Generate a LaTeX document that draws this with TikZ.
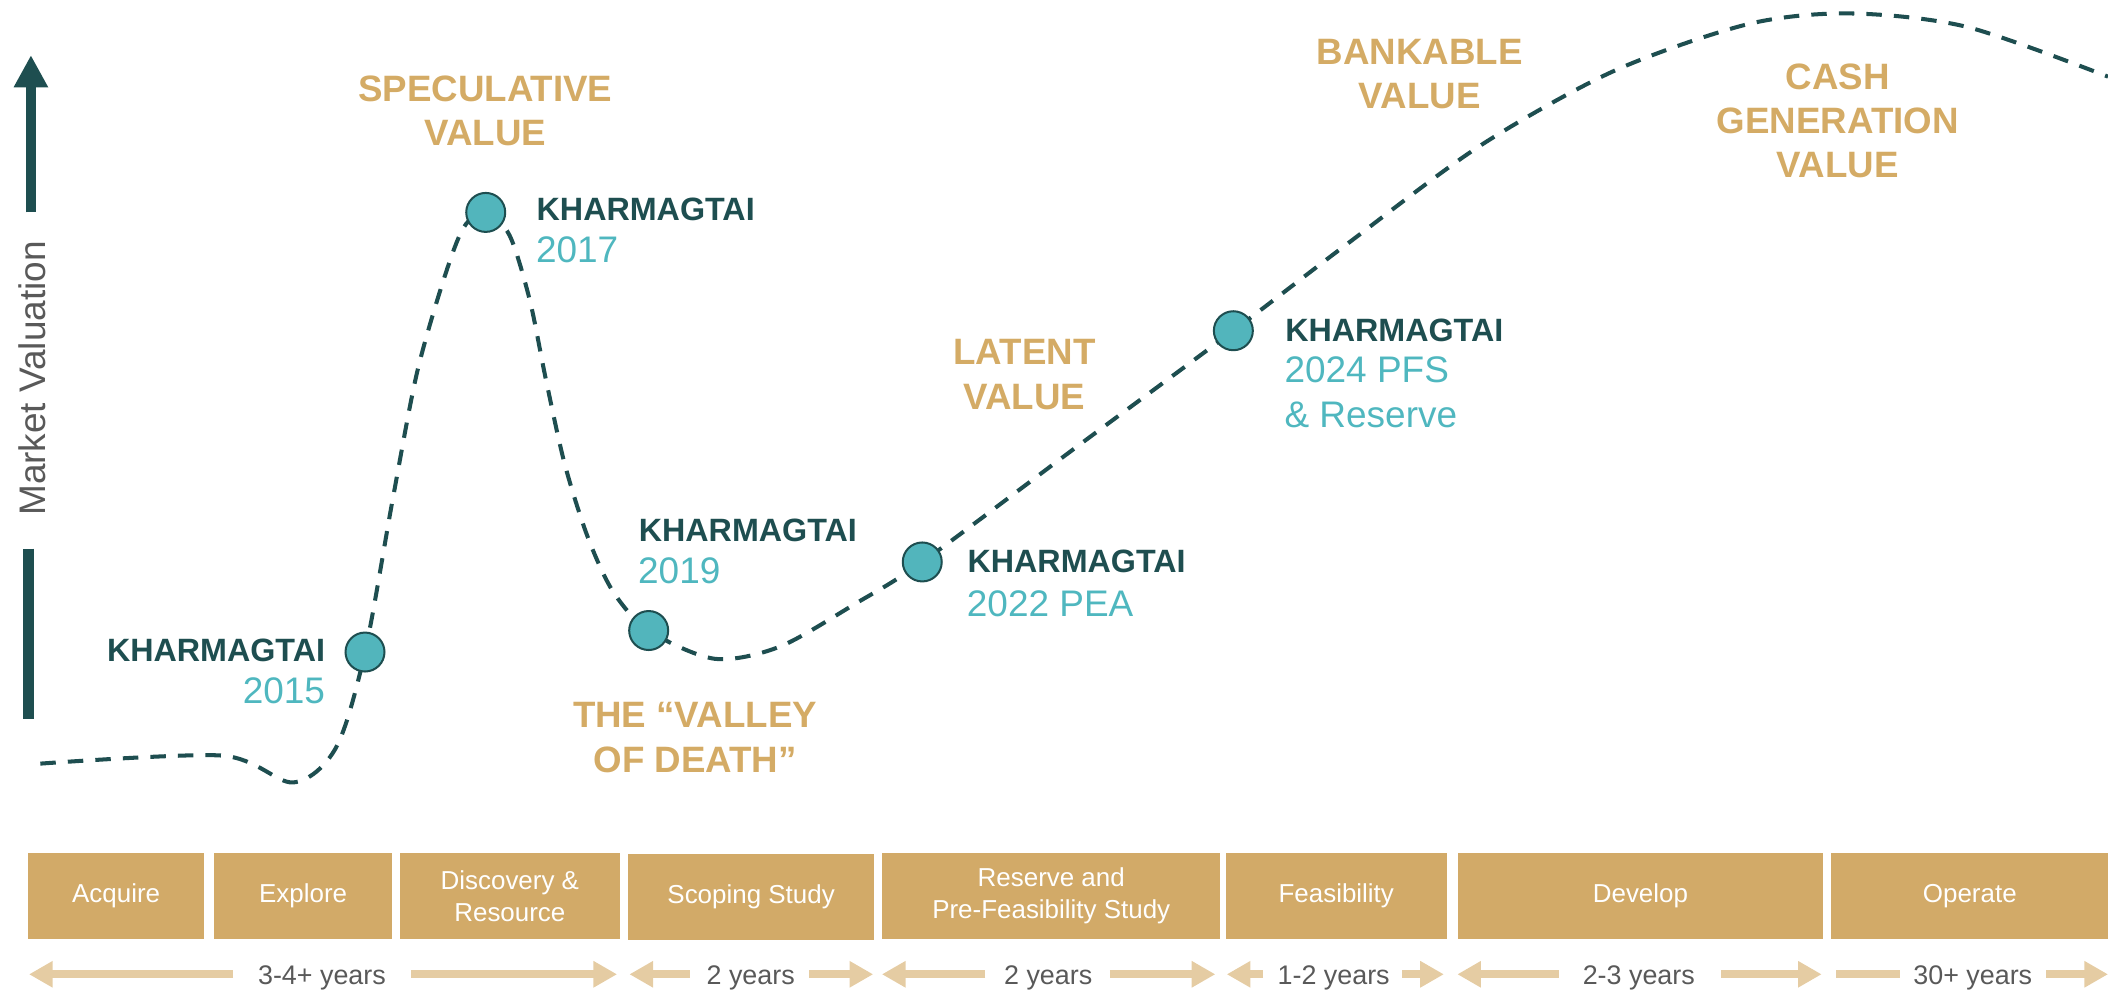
\documentclass[tikz,border=0pt]{standalone}
\usepackage{fontspec}
\setmainfont{Liberation Sans}
\usetikzlibrary{arrows.meta}
\definecolor{darkteal}{RGB}{30,78,80}
\definecolor{tealfill}{RGB}{82,181,188}
\definecolor{tealtext}{RGB}{79,183,191}
\definecolor{goldtext}{RGB}{212,171,101}
\definecolor{boxgold}{RGB}{210,170,104}
\definecolor{arrowgold}{RGB}{229,204,163}
\definecolor{graytext}{RGB}{89,89,89}
\begin{document}
\begin{tikzpicture}[x=1pt,y=-1pt,
  heading/.style={font=\fontsize{27.3}{32.8}\selectfont\bfseries, text=goldtext, align=center, anchor=north, inner sep=0pt},
  kname/.style={font=\fontsize{24}{28}\selectfont\bfseries, text=darkteal, inner sep=0pt},
  kyear/.style={font=\fontsize{27.5}{32}\selectfont, text=tealtext, inner sep=0pt},
  phase/.style={fill=boxgold, text=white, minimum height=64.5pt, inner sep=0pt, font=\fontsize{19.3}{23.6}\selectfont, align=center, anchor=north west},
  yrs/.style={font=\fontsize{20}{24}\selectfont, text=graytext, anchor=base, inner sep=0pt},
  garrow/.style={draw=arrowgold, line width=5.7pt, -{Triangle[width=18.6pt,length=17.6pt]}},
  gbar/.style={draw=arrowgold, line width=5.7pt},
  curve/.style={draw=darkteal, line width=3pt, dash pattern=on 11.5pt off 9pt},
  dot/.style={circle, fill=tealfill, draw=darkteal, line width=1.5pt, minimum size=29pt, inner sep=0pt}
]
\useasboundingbox (0,0) rectangle (1568,739.4);

% value axis
\coordinate (axb) at (23,158);
\coordinate (axt) at (23,41);
\draw[darkteal, line width=8pt, -{Triangle[width=24pt,length=24pt]}] (axb) -- (axt);
\coordinate (barT) at (21,408);
\coordinate (barB) at (21,534.5);
\draw[darkteal, line width=7.9pt] (barT) -- (barB);
\node[rotate=90, font=\fontsize{27.5}{32}\selectfont, text=graytext, inner sep=0pt] (mv) at (24,281.5) {Market Valuation};

% milestone positions
\coordinate (k15) at (271.5,485);
\coordinate (k17) at (361.3,158);
\coordinate (k19) at (482.5,469);
\coordinate (k22) at (686,418);
\coordinate (k24) at (917.4,246);

% value curve
\draw[curve] plot[smooth, tension=0.5] coordinates {
 (30,568) (165,562) (218,582) (250,556) (k15) (292,372) (310,278) (330,208)
 (345,169) (k17) (379,175) (394,223) (406,282) (420,345) (437,399)
 (456,440) (k19) (531.5,490) (580,481) (637,448.6) (k22) (800,333)
 (k24) (1000,183) (1100,109) (1200,53) (1300,18) (1376,10) (1463,20) (1568,57)};

\node[dot] (d15) at (k15) {};
\node[dot] (d17) at (k17) {};
\node[dot] (d19) at (k19) {};
\node[dot] (d22) at (k22) {};
\node[dot] (d24) at (k24) {};

% milestone labels
\node[kname, anchor=base east] (n15) at (242,492) {KHARMAGTAI};
\node[kyear, anchor=base east] (y15) at (242,523) {2015};
\node[kname, anchor=base west] (n17) at (399,164) {KHARMAGTAI};
\node[kyear, anchor=base west] (y17) at (398.5,195.5) {2017};
\node[kname, anchor=base west] (n19) at (475,402.5) {KHARMAGTAI};
\node[kyear, anchor=base west] (y19) at (474.5,434) {2019};
\node[kname, anchor=base west] (n22) at (719.5,426) {KHARMAGTAI};
\node[kyear, anchor=base west] (y22) at (719,458.7) {2022 PEA};
\node[kname, anchor=base west] (n24) at (955.8,254) {KHARMAGTAI};
\node[kyear, anchor=base west] (y24) at (955.3,284.6) {2024 PFS};
\node[kyear, anchor=base west] (r24) at (955.3,317.8) {\& Reserve};

% value stage headings
\node[heading] (hspec) at (361,56) {SPECULATIVE\\VALUE};
\node[heading] (hlat) at (762,252.5) {LATENT\\VALUE};
\node[heading] (hbank) at (1056,29) {BANKABLE\\VALUE};
\node[heading] (hcash) at (1367,47) {CASH\\GENERATION\\VALUE};
\node[heading] (hvod) at (517,522.5) {THE “VALLEY\\OF DEATH”};

% phase boxes
\node[phase, minimum width=131.2pt] (pacq) at (20.6,634) {Acquire};
\node[phase, minimum width=132.6pt] (pexp) at (159,634) {Explore};
\node[phase, minimum width=163.1pt] (pdis) at (297.5,634) {Discovery \&\\Resource};
\node[phase, minimum width=183pt] (psco) at (467,634.7) {Scoping Study};
\node[phase, minimum width=251.5pt] (pres) at (656,634) {Reserve and\\Pre-Feasibility Study};
\node[phase, minimum width=164.5pt] (pfea) at (911.5,634) {Feasibility};
\node[phase, minimum width=272pt] (pdev) at (1084,634) {Develop};
\node[phase, minimum width=206pt] (pope) at (1362,634) {Operate};

% durations
\def\ay{724.7}
\coordinate (a1s) at (173.4,\ay); \coordinate (a1e) at (21.6,\ay);
\coordinate (a2s) at (306,\ay);   \coordinate (a2e) at (459,\ay);
\coordinate (a3s) at (513,\ay);   \coordinate (a3e) at (468.2,\ay);
\coordinate (a4s) at (601.8,\ay); \coordinate (a4e) at (649.5,\ay);
\coordinate (a5s) at (733,\ay);   \coordinate (a5e) at (656,\ay);
\coordinate (a6s) at (825.5,\ay); \coordinate (a6e) at (904,\ay);
\coordinate (a7s) at (939.6,\ay); \coordinate (a7e) at (912.5,\ay);
\coordinate (a8s) at (1043,\ay);  \coordinate (a8e) at (1074,\ay);
\coordinate (a9s) at (1159.6,\ay); \coordinate (a9e) at (1084,\ay);
\coordinate (a10s) at (1280.4,\ay); \coordinate (a10e) at (1355,\ay);
\coordinate (a11s) at (1366,\ay); \coordinate (a11e) at (1413,\ay);
\coordinate (a12s) at (1522,\ay); \coordinate (a12e) at (1568,\ay);
\draw[garrow] (a1s) -- (a1e);
\draw[garrow] (a2s) -- (a2e);
\draw[garrow] (a3s) -- (a3e);
\draw[garrow] (a4s) -- (a4e);
\draw[garrow] (a5s) -- (a5e);
\draw[garrow] (a6s) -- (a6e);
\draw[garrow] (a7s) -- (a7e);
\draw[garrow] (a8s) -- (a8e);
\draw[garrow] (a9s) -- (a9e);
\draw[garrow] (a10s) -- (a10e);
\draw[gbar] (a11s) -- (a11e);
\draw[garrow] (a12s) -- (a12e);

\node[yrs] (t1) at (239.5,732) {3-4+ years};
\node[yrs] (t2) at (558.4,732) {2 years};
\node[yrs] (t3) at (779.7,732) {2 years};
\node[yrs] (t4) at (992,732) {1-2 years};
\node[yrs] (t5) at (1219,732) {2-3 years};
\node[yrs] (t6) at (1467.4,732) {30+ years};
\end{tikzpicture}
\end{document}
